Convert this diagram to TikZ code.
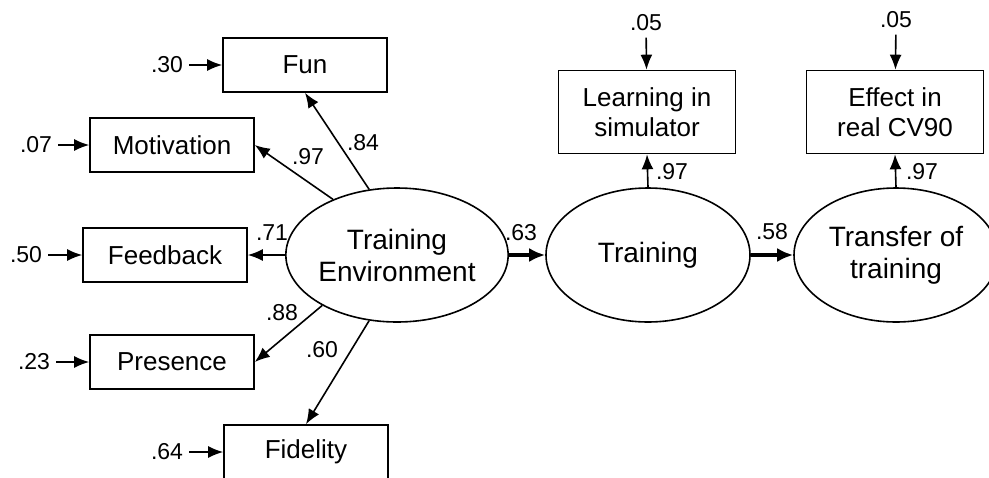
\documentclass[tikz,border=0pt]{standalone}
\usepackage{fontspec}
\setmainfont{Liberation Sans}
\usetikzlibrary{arrows.meta,shapes.geometric}
\begin{document}
\begin{tikzpicture}
		[x=0.5pt, y=-0.5pt,
		every node/.style={align=center, inner sep=0pt},
		obs/.style={draw, line width=0.8pt, minimum width=82pt, minimum height=27pt, font=\fontsize{13}{15}\selectfont},
		obsbig/.style={obs, minimum width=88.5pt, minimum height=41.5pt},
		latent/.style={draw, ellipse, line width=0.8pt, minimum width=102pt, minimum height=67pt, font=\fontsize{14}{16}\selectfont},
		num/.style={font=\fontsize{11.5}{13}\selectfont, inner sep=3pt},
		load/.style={-{Latex[length=7.5pt,width=6pt]}, line width=0.8pt},
		mainload/.style={-{Latex[length=8pt,width=7pt]}, line width=2pt},
		]

		\useasboundingbox (0,0) rectangle (989,477);

		% latente Variablen
		\node[latent] (env) at (397,255) {Training\\Environment};
		\node[latent] (train) at (648,255) {Training};
		\node[latent] (transf) at (896,255) {Transfer of\\training};

		% Indikatoren
		\node[obs] (fun) at (305,65) {Fun};
		\node[obs] (motiv) at (172,145) {Motivation};
		\node[obs] (feedb) at (165,255) {Feedback};
		\node[obs] (pres) at (172,362) {Presence};
		\node[obs] (fid) at (306,452) {Fidelity};
		\node[obsbig] (learn) at (647,112) {Learning in\\simulator};
		\node[obsbig] (effect) at (895,112) {Effect in\\real CV90};

		% Fehlerterme
		\node[num] (efun) at (167,65) {.30};
		\node[num] (emotiv) at (36,145) {.07};
		\node[num] (efeedb) at (26,255) {.50};
		\node[num] (epres) at (34,362) {.23};
		\node[num] (efid) at (167,452) {.64};
		\node[num] (elearn) at (646,23) {.05};
		\node[num] (eeffect) at (896,20) {.05};

		\draw[load] (efun) -- (fun);
		\draw[load] (emotiv) -- (motiv);
		\draw[load] (efeedb) -- (feedb);
		\draw[load] (epres) -- (pres);
		\draw[load] (efid) -- (fid);
		\draw[load] (elearn) -- (learn);
		\draw[load] (eeffect) -- (effect);

		% Ladungen
		\draw[load] (env.113) -- (fun.south);
		\draw[load] (env.139) -- (motiv.east);
		\draw[load] (env.west) -- (feedb.east);
		\draw[load] (env.214) -- (pres.east);
		\draw[load] (env.247) -- (fid.north);
		\draw[load] (train.north) -- (learn.south);
		\draw[load] (transf.north) -- (effect.south);
		\draw[mainload] (env.east) -- (train.west);
		\draw[mainload] (train.east) -- (transf.west);

		\node[num] at (363,143) {.84};
		\node[num] at (308,157) {.97};
		\node[num] at (272,233) {.71};
		\node[num] at (282,313) {.88};
		\node[num] at (322,350) {.60};
		\node[num] at (521,233) {.63};
		\node[num] at (772,232) {.58};
		\node[num] at (672,172) {.97};
		\node[num] at (922,172) {.97};
	\end{tikzpicture}
\end{document}
